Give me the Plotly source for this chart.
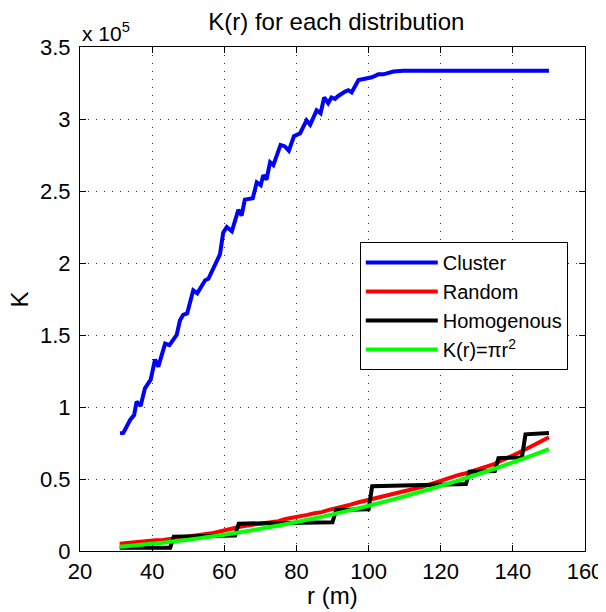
import plotly.graph_objects as go

# ---- data ----
cluster_r = [31.1, 32.0, 33.9, 35.0, 35.7, 36.8, 38.0, 39.6, 40.8, 41.7, 43.6, 44.8,
             46.8, 47.7, 48.6, 49.7, 51.4, 52.5, 54.7, 55.6, 58.8, 59.7, 60.7, 62.1,
             63.9, 64.8, 65.7, 67.9, 69.0, 70.1, 70.8, 71.7, 72.7, 73.6, 75.6, 76.8,
             77.9, 79.3, 81.0, 82.8, 83.8, 84.9, 85.6, 86.7, 87.7, 88.8, 89.7, 90.7,
             91.6, 93.5, 94.4, 95.3, 97.2, 99.0, 100.9, 102.7, 104.1, 106.9, 109.6, 150.0]
cluster_k = [81700, 82000, 91000, 94400, 103700, 100700, 113000, 119000, 133000, 128000,
             144000, 143000, 150000, 160000, 164000, 165000, 181000, 179000, 188000, 189000,
             206000, 221000, 225000, 222000, 237000, 233000, 244000, 245000, 256000, 254000,
             261000, 258000, 270000, 268000, 282000, 281000, 278000, 288000, 290000, 299000,
             296000, 303000, 306000, 304000, 315000, 311000, 315000, 314000, 316000, 319000,
             320000, 318500, 327000, 328000, 329000, 331000, 331000, 333000, 333500, 333500]

random_r = [31, 33, 35, 37, 39, 41, 43, 45, 47, 49, 51, 53, 55, 57, 59, 61, 63, 65, 67, 69,
            71, 73, 75, 77, 79, 81, 83, 85, 87, 89, 91, 93, 95, 97, 99, 101, 103, 105, 107,
            109, 111, 113, 115, 117, 119, 121, 123, 125, 127, 129, 131, 133, 135, 137, 139,
            141, 143, 145, 147, 149, 150]
random_k = [5000, 5600, 5900, 6500, 6800, 7400, 7700, 8400, 8900, 9600, 10100, 10900,
            11600, 12600, 13700, 15000, 15900, 17200, 17900, 18700, 19100, 20100, 20700,
            22200, 23000, 23800, 25100, 26200, 27000, 28600, 29600, 31200, 32200, 33700,
            34900, 36100, 37000, 38600, 39400, 40900, 41600, 43300, 44600, 46200, 47800,
            50000, 51200, 52800, 54000, 55600, 57000, 59200, 60500, 63000, 65000, 67500,
            70000, 72500, 75500, 77500, 79000]

homog_r = [31, 45, 46, 63, 64, 90, 91, 100, 101, 127, 128, 135, 136, 142.5, 143.5, 150]
homog_k = [2200, 2200, 10000, 10800, 19000, 20000, 28500, 29000, 45000, 46500, 55000,
           55500, 64500, 65000, 81000, 82000]

theory_r = [31, 35, 40, 45, 50, 55, 60, 65, 70, 75, 80, 85, 90, 95, 100, 105, 110, 115,
            120, 125, 130, 135, 140, 145, 150]
theory_k = [3019, 3848, 5027, 6362, 7854, 9503, 11310, 13273, 15394, 17671, 20106, 22698,
            25447, 28353, 31416, 34636, 38013, 41548, 45239, 49087, 53093, 57256, 61575,
            66052, 70686]

x_ticks = [20, 40, 60, 80, 100, 120, 140, 160]
y_tickvals = [0, 50000, 100000, 150000, 200000, 250000, 300000, 350000]
y_ticktext = ["0", "0.5", "1", "1.5", "2", "2.5", "3", "3.5"]

FONT = "Liberation Sans"

fig = go.Figure()
fig.add_trace(go.Scatter(x=cluster_r, y=cluster_k, mode="lines", name="Cluster",
                         line=dict(color="#0000ff", width=4)))
fig.add_trace(go.Scatter(x=random_r, y=random_k, mode="lines", name="Random",
                         line=dict(color="#ff0000", width=4)))
fig.add_trace(go.Scatter(x=homog_r, y=homog_k, mode="lines", name="Homogenous",
                         line=dict(color="#000000", width=4)))
fig.add_trace(go.Scatter(x=theory_r, y=theory_k, mode="lines", name="K(r)=πr<sup>2</sup>",
                         line=dict(color="#00ff00", width=4, shape="spline")))

axis_common = dict(showline=True, linecolor="black", linewidth=1.2, mirror="ticks",
                   ticks="inside", ticklen=6, tickcolor="black", automargin=False,
                   ticklabeloverflow="allow",
                   showgrid=True, gridcolor="#333333", griddash="1px,7px", gridwidth=1,
                   zeroline=False, tickfont=dict(family=FONT, size=22, color="black"))

fig.update_xaxes(range=[20, 160], tickvals=x_ticks, ticklabelstandoff=0, **axis_common)
fig.update_yaxes(range=[0, 350000], tickvals=y_tickvals, ticktext=y_ticktext,
                 ticklabelstandoff=4, **axis_common)

fig.update_layout(
    width=598, height=604,
    margin=dict(l=72, r=21, t=39, b=61),
    paper_bgcolor="white", plot_bgcolor="white",
    font=dict(family=FONT, color="black"),
    title=dict(text="K(r) for each distribution", x=0.549, xanchor="center",
               y=0.977, yanchor="middle",
               font=dict(family=FONT, size=24, color="black")),
    showlegend=True,
    legend=dict(x=0.554, y=0.613, xanchor="left", yanchor="top",
                bgcolor="white", bordercolor="black", borderwidth=1,
                font=dict(family=FONT, size=20, color="black"),
                itemwidth=72, tracegroupgap=0),
    annotations=[
        dict(text="x 10<sup>5</sup>", xref="paper", yref="paper",
             x=0.0, y=1.0, xanchor="left", yanchor="bottom", yshift=0,
             showarrow=False, font=dict(family=FONT, size=21, color="black")),
        dict(text="r (m)", xref="paper", yref="paper", x=0.5, y=-0.089,
             xanchor="center", yanchor="middle", showarrow=False,
             font=dict(family=FONT, size=24, color="black")),
        dict(text="K", xref="paper", yref="paper", x=-0.12, y=0.5,
             xanchor="center", yanchor="middle", textangle=-90, showarrow=False,
             font=dict(family=FONT, size=24, color="black")),
    ],
)

fig.write_html("out.html")
